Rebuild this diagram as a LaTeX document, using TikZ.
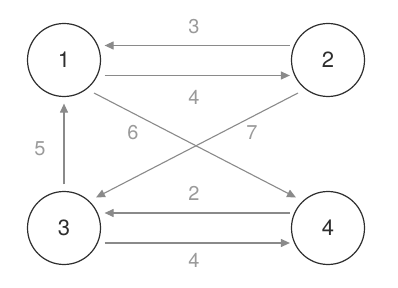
\documentclass[tikz,border=0pt]{standalone}
\usepackage{fontspec}
\setmainfont{TeX Gyre Heros}
\usetikzlibrary{arrows.meta}
\definecolor{edgegray}{HTML}{8A8A8A}
\definecolor{labelgray}{HTML}{9A9A9A}
\definecolor{circlegray}{HTML}{2E2E2E}
\begin{document}
\begin{tikzpicture}[x=1pt,y=-1pt,
  vert/.style={circle,draw=circlegray,line width=1.2pt,minimum size=73pt,inner sep=0pt,font=\fontsize{22}{25}\selectfont,text=circlegray},
  edge/.style={draw=edgegray,line width=1.1pt,-{Triangle[length=9pt,width=8pt]}},
  lab/.style={text=labelgray,font=\fontsize{20}{23}\selectfont,inner sep=0pt}]
\useasboundingbox (0,0) rectangle (398,288);
\node[vert] (n1) at (64,60) {1};
\node[vert] (n2) at (328,60) {2};
\node[vert] (n3) at (64,228) {3};
\node[vert] (n4) at (328,228) {4};
\draw[edge] ([shift={(-1pt,14.5pt)}]n2.west) -- ([shift={(3.5pt,14.5pt)}]n1.east);
\draw[edge] ([shift={(3.5pt,-15.5pt)}]n1.east) -- ([shift={(-1pt,-15.5pt)}]n2.west);
\draw[edge] ([shift={(-1pt,15pt)}]n4.west) -- ([shift={(3.5pt,15pt)}]n3.east);
\draw[edge] ([shift={(3.5pt,-15pt)}]n3.east) -- ([shift={(-1pt,-15pt)}]n4.west);
\draw[edge] ([shift={(0pt,6.5pt)}]n3.north) -- ([shift={(0pt,-6.5pt)}]n1.south);
\draw[edge] ([shift={(30pt,-33pt)}]n1.center) -- ([shift={(-32pt,30.5pt)}]n4.center);
\draw[edge] ([shift={(-30pt,-33pt)}]n2.center) -- ([shift={(32pt,30.5pt)}]n3.center);
\node[lab] (l3) at (194,27) {3};
\node[lab] (l4a) at (194,97) {4};
\node[lab] (l2) at (194,193) {2};
\node[lab] (l4b) at (194,260) {4};
\node[lab] (l5) at (40,149) {5};
\node[lab] (l6) at (133,133) {6};
\node[lab] (l7) at (252,133) {7};
\end{tikzpicture}
\end{document}
